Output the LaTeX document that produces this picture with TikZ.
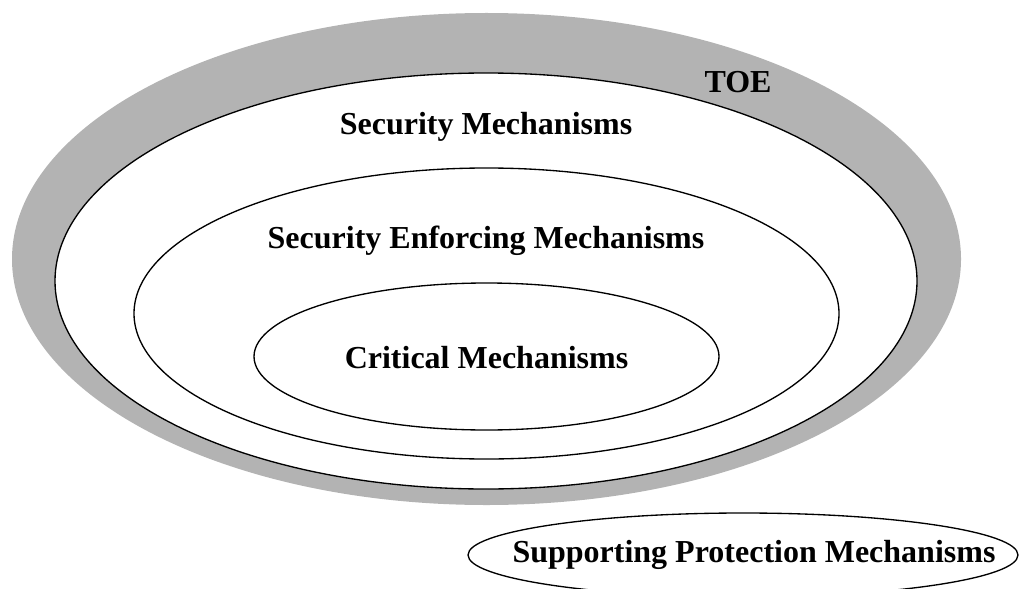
\documentclass[tikz,border=0pt]{standalone}
\usepackage{fontspec}
\setmainfont{Liberation Serif}
\usetikzlibrary{shapes.geometric}
\definecolor{toegray}{RGB}{179,179,179}
\tikzset{
  ring/.style={ellipse, inner sep=0pt, outer sep=0pt, line width=1pt},
  lbl/.style={anchor=base, inner sep=0pt, font=\fontsize{24}{28}\selectfont\bfseries}
}
\begin{document}
\begin{tikzpicture}[x=0.75pt, y=-0.75pt]
  \useasboundingbox (0,0) rectangle (1019,588);
  % nested mechanism regions
  \node[ring, fill=toegray, minimum width=711.75pt, minimum height=369pt] (toe) at (486.5,259) {};
  \node[ring, draw, fill=white, minimum width=646.5pt, minimum height=312pt] (sm) at (486,281) {};
  \node[ring, draw, minimum width=528.75pt, minimum height=218.25pt] (sem) at (486.5,313.5) {};
  \node[ring, draw, minimum width=348.75pt, minimum height=110.25pt] (cm) at (486.5,356.5) {};
  \node[ring, draw, minimum width=412.5pt, minimum height=63pt] (spm) at (743,555) {};
  % labels
  \node[lbl] (toeLabel) at (738,93) {TOE};
  \node[lbl] (smLabel) at (486,135) {Security Mechanisms};
  \node[lbl] (semLabel) at (486,248) {Security Enforcing Mechanisms};
  \node[lbl] (cmLabel) at (486.5,368) {Critical Mechanisms};
  \node[lbl] (spmLabel) at (754,562) {Supporting Protection Mechanisms};
\end{tikzpicture}
\end{document}
